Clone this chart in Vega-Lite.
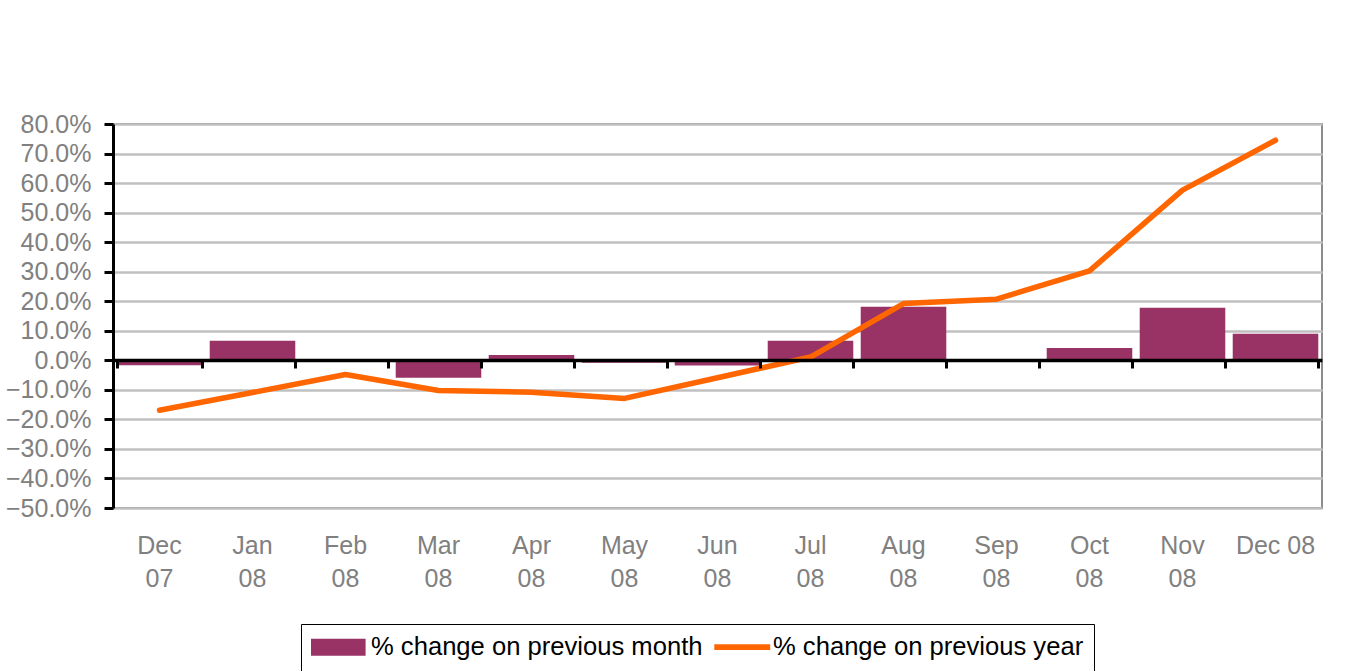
{
  "$schema": "https://vega.github.io/schema/vega-lite/v6.json",
  "width": 1209,
  "height": 384,
  "autosize": {"type": "none"},
  "padding": {"left": 113, "top": 124, "right": 31, "bottom": 163},
  "background": "white",
  "config": {
    "view": {"stroke": "#8c8c8c", "strokeWidth": 2},
    "font": "Liberation Sans"
  },
  "data": {
    "values": [
      {"month": "Dec 07", "mom": -0.017, "yoy": -0.169},
      {"month": "Jan 08", "mom": 0.066, "yoy": -0.109},
      {"month": "Feb 08", "mom": 0.0, "yoy": -0.048},
      {"month": "Mar 08", "mom": -0.059, "yoy": -0.102},
      {"month": "Apr 08", "mom": 0.018, "yoy": -0.108},
      {"month": "May 08", "mom": -0.008, "yoy": -0.129},
      {"month": "Jun 08", "mom": -0.018, "yoy": -0.059},
      {"month": "Jul 08", "mom": 0.066, "yoy": 0.011},
      {"month": "Aug 08", "mom": 0.181, "yoy": 0.192},
      {"month": "Sep 08", "mom": 0.0, "yoy": 0.207},
      {"month": "Oct 08", "mom": 0.042, "yoy": 0.303},
      {"month": "Nov 08", "mom": 0.178, "yoy": 0.576},
      {"month": "Dec 08", "mom": 0.09, "yoy": 0.745}
    ]
  },
  "resolve": {"axis": {"x": "independent"}},
  "layer": [
    {
      "mark": {"type": "bar", "color": "#993366"},
      "encoding": {
        "x": {
          "field": "month",
          "type": "ordinal",
          "sort": null,
          "scale": {"paddingInner": 0.08, "paddingOuter": 0.04},
          "axis": {
            "orient": "bottom",
            "title": null,
            "domain": false,
            "ticks": false,
            "grid": false,
            "labelAngle": 0,
            "labelFont": "Liberation Sans",
            "labelFontSize": 25,
            "labelColor": "#808080",
            "labelPadding": 25,
            "labelLineHeight": 33,
            "labelExpr": "datum.value == 'Dec 08' ? datum.value : split(datum.value, ' ')"
          }
        },
        "y": {
          "field": "mom",
          "type": "quantitative",
          "scale": {"domain": [-0.5, 0.8], "nice": false, "zero": false},
          "axis": {
            "title": null,
            "values": [-0.5, -0.4, -0.3, -0.2, -0.1, 0, 0.1, 0.2, 0.3, 0.4, 0.5, 0.6, 0.7, 0.8],
            "format": ".1%",
            "grid": true,
            "gridColor": "#c0c0c0",
            "gridWidth": 2.5,
            "domainColor": "black",
            "domainWidth": 3,
            "tickColor": "black",
            "tickWidth": 3,
            "tickSize": 9,
            "labelPadding": 13,
            "labelFontSize": 25,
            "labelColor": "#808080",
            "labelFont": "Liberation Sans"
          }
        },
        "color": {
          "datum": "% change on previous month",
          "type": "nominal",
          "scale": {
            "domain": ["% change on previous month", "% change on previous year"],
            "range": ["#993366", "#FF6600"]
          },
          "legend": {
            "title": null,
            "orient": "none",
            "legendX": 188,
            "legendY": 500,
            "direction": "horizontal",
            "strokeColor": "black",
            "padding": 10,
            "labelFont": "Liberation Sans",
            "labelFontSize": 25.6,
            "labelColor": "black",
            "labelLimit": 0,
            "labelOffset": 34,
            "columnPadding": 10,
            "symbolSize": 676,
            "symbolStrokeWidth": 0,
            "symbolType": "M-1,-0.65H3.2V0.65H-1Z",
            "encode": {
              "symbols": {
                "update": {
                  "shape": {"signal": "datum.index === 0 ? 'M-1,-0.65H3.2V0.65H-1Z' : 'M-0.9,-0.22H3.4V0.22H-0.9Z'"},
                  "fill": {"signal": "datum.index === 0 ? '#993366' : '#FF6600'"},
                  "stroke": {"value": "transparent"},
                  "opacity": {"value": 1}
                }
              }
            }
          }
        }
      }
    },
    {
      "mark": {"type": "line", "strokeWidth": 5.5, "strokeCap": "round", "strokeJoin": "round"},
      "encoding": {
        "x": {
          "field": "month",
          "type": "ordinal",
          "sort": null,
          "axis": {
            "orient": "bottom",
            "title": null,
            "offset": -148,
            "labels": false,
            "grid": false,
            "domainColor": "black",
            "domainWidth": 3.5,
            "tickColor": "black",
            "tickWidth": 3,
            "tickSize": 8,
            "tickBand": "extent",
            "zindex": 1
          }
        },
        "y": {
          "field": "yoy",
          "type": "quantitative",
          "axis": {
            "title": null,
            "values": [-0.5, -0.4, -0.3, -0.2, -0.1, 0, 0.1, 0.2, 0.3, 0.4, 0.5, 0.6, 0.7, 0.8],
            "format": ".1%",
            "grid": true,
            "gridColor": "#c0c0c0",
            "gridWidth": 2.5,
            "domainColor": "black",
            "domainWidth": 3,
            "tickColor": "black",
            "tickWidth": 3,
            "tickSize": 9,
            "labelPadding": 13,
            "labelFontSize": 25,
            "labelColor": "#808080",
            "labelFont": "Liberation Sans"
          }
        },
        "color": {"datum": "% change on previous year", "type": "nominal"}
      }
    }
  ]
}
